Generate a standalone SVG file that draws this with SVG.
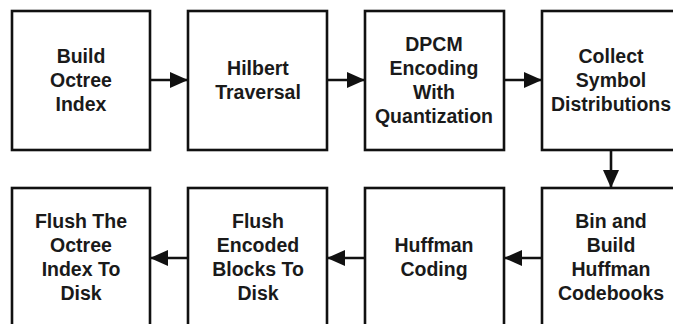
<svg xmlns="http://www.w3.org/2000/svg" width="673" height="324" viewBox="0 0 673 324">
<style>
.box{fill:#fff;stroke:#111;stroke-width:2.6}
.t{font-family:"Liberation Sans",Arial,sans-serif;font-weight:bold;font-size:19.5px;fill:#1a1a1a;text-anchor:middle}
.c{stroke:#111;stroke-width:2.6;fill:none;marker-end:url(#ah)}
</style>
<defs>
<marker id="ah" viewBox="0 0 18 16" refX="17" refY="8" markerWidth="18" markerHeight="16" markerUnits="userSpaceOnUse" orient="auto">
<path d="M0,0 L18,8 L0,16 z" fill="#111"/>
</marker>
</defs>
<rect width="673" height="324" fill="#fff"/>
<g id="connectors">
<line class="c" x1="150" y1="80" x2="187" y2="80"/>
<line class="c" x1="327" y1="80" x2="364" y2="80"/>
<line class="c" x1="504" y1="80" x2="541" y2="80"/>
<line class="c" x1="611" y1="150" x2="611" y2="187"/>
<line class="c" x1="542" y1="258" x2="505" y2="258"/>
<line class="c" x1="365" y1="258" x2="328" y2="258"/>
<line class="c" x1="188" y1="258" x2="151" y2="258"/>
</g>
<g id="n1"><rect class="box" x="12" y="11" width="138" height="139"/>
<text class="t" x="81"><tspan x="81" y="63">Build</tspan><tspan x="81" y="87">Octree</tspan><tspan x="81" y="111">Index</tspan></text></g>
<g id="n2"><rect class="box" x="188" y="11" width="139" height="139"/>
<text class="t"><tspan x="258" y="75">Hilbert</tspan><tspan x="258" y="99">Traversal</tspan></text></g>
<g id="n3"><rect class="box" x="365" y="11" width="139" height="139"/>
<text class="t"><tspan x="434" y="51">DPCM</tspan><tspan x="434" y="75">Encoding</tspan><tspan x="434" y="99">With</tspan><tspan x="434" y="123">Quantization</tspan></text></g>
<g id="n4"><rect class="box" x="542" y="11" width="139" height="139"/>
<text class="t"><tspan x="611" y="63">Collect</tspan><tspan x="611" y="87">Symbol</tspan><tspan x="611" y="111">Distributions</tspan></text></g>
<g id="n5"><rect class="box" x="542" y="188" width="139" height="139"/>
<text class="t"><tspan x="611" y="228">Bin and</tspan><tspan x="611" y="252">Build</tspan><tspan x="611" y="276">Huffman</tspan><tspan x="611" y="300">Codebooks</tspan></text></g>
<g id="n6"><rect class="box" x="365" y="188" width="139" height="139"/>
<text class="t"><tspan x="434" y="252">Huffman</tspan><tspan x="434" y="276">Coding</tspan></text></g>
<g id="n7"><rect class="box" x="188" y="188" width="139" height="139"/>
<text class="t"><tspan x="258" y="228">Flush</tspan><tspan x="258" y="252">Encoded</tspan><tspan x="258" y="276">Blocks To</tspan><tspan x="258" y="300">Disk</tspan></text></g>
<g id="n8"><rect class="box" x="12" y="188" width="138" height="139"/>
<text class="t"><tspan x="81" y="228">Flush The</tspan><tspan x="81" y="252">Octree</tspan><tspan x="81" y="276">Index To</tspan><tspan x="81" y="300">Disk</tspan></text></g>
</svg>
